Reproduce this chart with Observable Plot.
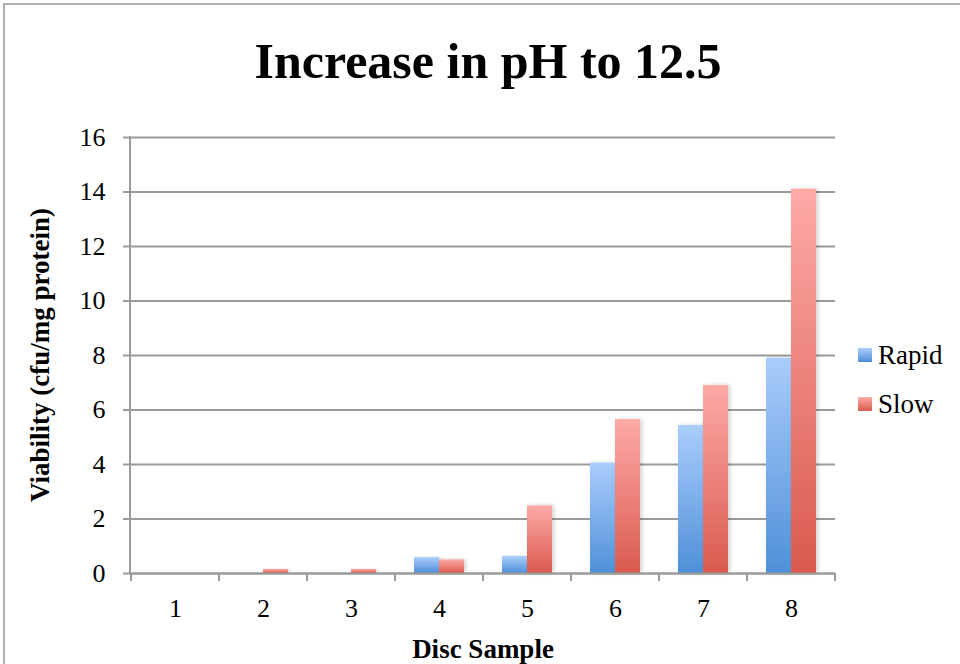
<!DOCTYPE html>
<html>
<head>
<meta charset="utf-8">
<script src="https://cdn.jsdelivr.net/npm/d3@7"></script>
<script src="https://cdn.jsdelivr.net/npm/@observablehq/plot@0.6"></script>
<style>
  html, body { margin: 0; padding: 0; background: #fff; }
  #wrap { position: relative; width: 960px; height: 664px; overflow: hidden; font-family: "Liberation Serif", "DejaVu Serif", serif; }
  #border { position: absolute; left: 3px; top: 3px; width: 1000px; height: 700px; border-left: 2px solid #b0b0b0; border-top: 2px solid #b0b0b0; box-sizing: border-box; }
  #title { position: absolute; left: 0; top: 0; width: 976px; height: 110px; text-align: center; font-weight: bold; font-size: 50px; line-height: 122px; color: #000; }
  #chart { position: absolute; left: 0; top: 110px; }
  #legend { position: absolute; left: 858px; top: 340px; font-size: 27px; color: #000; }
  .item { display: flex; align-items: center; height: 30px; margin-bottom: 19px; }
  .sw { width: 14px; height: 14px; margin-right: 6px; }
</style>
</head>
<body>
<div id="wrap">
  <div id="border"></div>
  <div id="title">Increase in pH to 12.5</div>
  <div id="chart"></div>
  <div id="legend"></div>
</div>
<script>
const categories = ["1", "2", "3", "4", "5", "6", "7", "8"];
const series = ["Rapid", "Slow"];
const rapid = [0, 0, 0, 0.58, 0.62, 4.05, 5.43, 7.9];
const slow = [0, 0.15, 0.15, 0.5, 2.48, 5.65, 6.9, 14.1];
const yTicks = [0, 2, 4, 6, 8, 10, 12, 14, 16];
const gradTop = {Rapid: "#aacdfc", Slow: "#fdaaa7"};
const gradBottom = {Rapid: "#4f90d8", Slow: "#da5a4e"};

const data = categories.flatMap((c, i) => [
  {cat: c, series: "Rapid", value: rapid[i]},
  {cat: c, series: "Slow", value: slow[i]}
]);

const W = 960, H = 554, mL = 130, mR = 124, mT = 27, mB = 91;
const font = "'Liberation Serif', 'DejaVu Serif', serif";

const chart = Plot.plot({
  width: W, height: H,
  marginLeft: mL, marginRight: mR, marginTop: mT, marginBottom: mB,
  style: {fontFamily: font, fontSize: "26px", color: "#000", background: "transparent"},
  fx: {domain: categories, padding: 0, axis: null, label: null},
  x: {domain: series, paddingInner: 0, paddingOuter: 0.7, axis: null},
  y: {domain: [0, 16], axis: null},
  color: {domain: series, range: series.map(s => `url(#grad${s})`)},
  marks: [
    Plot.gridY(yTicks, {stroke: "#9a9a9a", strokeOpacity: 1, strokeWidth: 2}),
    Plot.barY(data, {fx: "cat", x: "series", y: "value", fill: "series"}),
    Plot.ruleY([0], {stroke: "#9a9a9a", strokeWidth: 2}),
    Plot.axisY(yTicks, {tickSize: 8, tickPadding: 18, stroke: "#9a9a9a", strokeWidth: 2, fill: "#000", fontSize: 26, label: null}),
    Plot.axisFx({anchor: "bottom", tickSize: 0, tickPadding: 25, fontSize: 26, label: null})
  ]
});

const svg = d3.select(chart);
const defs = svg.insert("defs", ":first-child");
series.forEach(s => {
  const g = defs.append("linearGradient").attr("id", `grad${s}`).attr("x1", 0).attr("y1", 0).attr("x2", 0).attr("y2", 1);
  g.append("stop").attr("offset", "0%").attr("stop-color", gradTop[s]);
  g.append("stop").attr("offset", "100%").attr("stop-color", gradBottom[s]);
});
const f = defs.append("filter").attr("id", "shadow").attr("x", "-20%").attr("y", "-5%").attr("width", "150%").attr("height", "110%");
f.append("feDropShadow").attr("dx", 2).attr("dy", 0).attr("stdDeviation", 2).attr("flood-color", "#000").attr("flood-opacity", 0.18);
svg.selectAll("[aria-label='bar'] rect").attr("filter", "url(#shadow)");

const fx = chart.scale("fx");
const y = chart.scale("y");
const y0 = y.apply(0), y16 = y.apply(16);
const xs = categories.map(c => fx.apply(c)).concat([fx.apply(categories[categories.length - 1]) + fx.bandwidth]);
const extra = svg.append("g").attr("stroke", "#9a9a9a").attr("stroke-width", 2);
extra.append("line").attr("x1", mL).attr("x2", mL).attr("y1", y16 - 1).attr("y2", y0 + 1);
xs.forEach(x => extra.append("line").attr("x1", x).attr("x2", x).attr("y1", y0).attr("y2", y0 + 8));

svg.append("text")
  .attr("x", (mL + W - mR) / 2).attr("y", H - 6)
  .attr("text-anchor", "middle").attr("font-weight", "bold").attr("font-size", 27)
  .attr("font-family", font).text("Disc Sample");
svg.append("text")
  .attr("transform", `translate(49, ${(y0 + y16) / 2}) rotate(-90)`)
  .attr("text-anchor", "middle").attr("font-weight", "bold").attr("font-size", 27)
  .attr("font-family", font).text("Viability (cfu/mg protein)");

document.getElementById("chart").appendChild(chart);

const legend = d3.select("#legend");
series.forEach(s => {
  const it = legend.append("div").attr("class", "item");
  it.append("div").attr("class", "sw").style("background", `linear-gradient(${gradTop[s]}, ${gradBottom[s]})`);
  it.append("span").text(s);
});
</script>
</body>
</html>
